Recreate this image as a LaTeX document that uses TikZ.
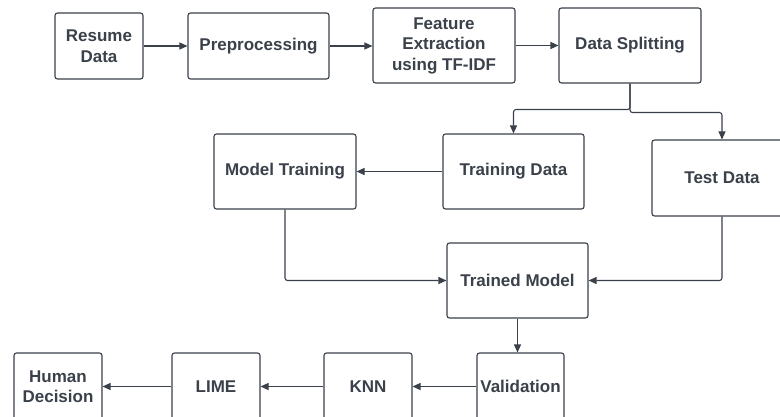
\documentclass[tikz,border=0pt]{standalone}
\usepackage{fontspec}
\setmainfont{Liberation Sans}
\usetikzlibrary{arrows.meta}
\definecolor{ink}{HTML}{3A414A}
\begin{document}
\begin{tikzpicture}[x=1pt,y=-1pt,
  box/.style={draw=ink,line width=1.1pt,rounded corners=2.5pt,fill=white,
    inner sep=0pt,align=center,text=ink,
    font=\fontsize{17}{20.5}\selectfont\bfseries},
  arr/.style={draw=ink,line width=1.1pt,rounded corners=2.5pt,
    -{Triangle[length=8pt,width=7pt]}}]
\useasboundingbox (0,0) rectangle (780,417);
\fill[white] (0,0) rectangle (780,417);
\clip (0,0) rectangle (780,417);
% top row
\node[box,minimum width=88pt,minimum height=66pt] (resume) at (99,46) {Resume\\Data};
\node[box,minimum width=141pt,minimum height=66pt] (prep) at (258.5,46) {Preprocessing};
\node[box,minimum width=142pt,minimum height=75pt] (feat) at (444,45.5) {Feature\\Extraction\\using TF-IDF};
\node[box,minimum width=142pt,minimum height=75pt] (split) at (630,45.5) {Data Splitting};
% middle rows
\node[box,minimum width=141pt,minimum height=75pt] (train) at (513.5,171.5) {Training Data};
\node[box,minimum width=140pt,minimum height=76pt] (test) at (722,178) {Test Data};
\node[box,minimum width=142pt,minimum height=75pt] (mtrain) at (285,171.5) {Model Training};
\node[box,minimum width=141pt,minimum height=75pt] (tmodel) at (517.5,280.5) {Trained Model};
% bottom row
\node[box,minimum width=87pt,minimum height=67pt] (valid) at (520.5,386.5) {Validation};
\node[box,minimum width=88pt,minimum height=67pt] (knn) at (368,386.5) {KNN};
\node[box,minimum width=88pt,minimum height=67pt] (lime) at (216,386.5) {LIME};
\node[box,minimum width=88pt,minimum height=67pt] (human) at (58,386.5) {Human\\Decision};
% connectors
\draw[arr] (resume) -- (prep);
\draw[arr] (prep.east) -- (feat.west |- prep.east);
\draw[arr] (feat) -- (split);
\draw[arr] (split.south) -- ++(0,26) -| (train.north);
\draw[arr] (split.south) -- ++(0,29) -| (test.north);
\draw[arr] (train) -- (mtrain);
\draw[arr] (mtrain.south) |- (tmodel.west);
\draw[arr] (test.south) |- (tmodel.east);
\draw[arr] (tmodel.south) -- (tmodel.south |- valid.north);
\draw[arr] (valid) -- (knn);
\draw[arr] (knn) -- (lime);
\draw[arr] (lime) -- (human);
\end{tikzpicture}
\end{document}
